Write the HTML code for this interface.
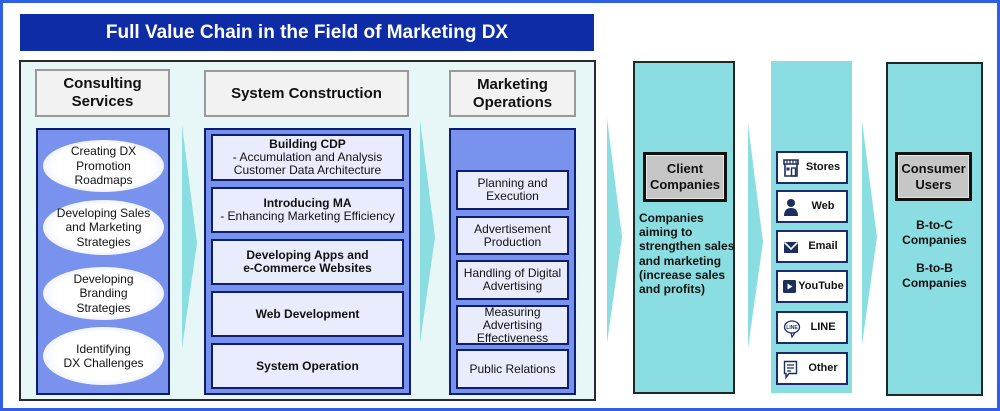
<!DOCTYPE html>
<html><head><meta charset="utf-8">
<style>
*{box-sizing:border-box;margin:0;padding:0}
html,body{width:1000px;height:411px;overflow:hidden;background:#fff}
body{position:relative;font-family:"Liberation Sans",Arial,sans-serif;color:#111}
.a{position:absolute}
.frame{left:0;top:0;width:1000px;height:411px;border:3px solid #2f5fe6}
.title{left:20px;top:14px;width:574px;height:37px;background:#0d2ca6;color:#fff;font-weight:bold;font-size:19px;text-align:center;line-height:37px}
.main{left:19px;top:60px;width:577px;height:341px;border:2px solid #2a2a2a;background:#e7f7f8}
.hdr{background:#f2f2f2;border:2px solid #9a9a9a;font-weight:bold;font-size:15px;text-align:center;display:flex;align-items:center;justify-content:center;line-height:18px}
.bp{background:#7892ee;border:2px solid #0b1f6e}
.ell{left:43px;width:121px;border-radius:50%;background:radial-gradient(ellipse at center,#ffffff 58%,#e6ebfb 80%,#c4cff4 100%);font-size:12px;line-height:14.5px;text-align:center;display:flex;align-items:center;justify-content:center}
.sb{left:211px;width:193px;background:#e8ecfc;border:2px solid #0b1f6e;font-size:12px;line-height:13px;text-align:center;display:flex;align-items:center;justify-content:center}
.mb{left:456px;width:113px;background:#e8ecfc;border:2px solid #0b1f6e;font-size:12px;line-height:13px;text-align:center;display:flex;align-items:center;justify-content:center}
.cyan{background:#8adde0}
.cp{border:2px solid #1e2a2a}
.gb{background:#c6c6c6;border:3px solid #111;box-shadow:inset 0 0 0 1px #e6e6e6;font-weight:bold;font-size:13px;line-height:16px;text-align:center;display:flex;align-items:center;justify-content:center}
.ch{left:776px;width:72px;height:33px;background:#fff;border:2px solid #1a2a6c;font-weight:bold;font-size:11px}
.ch span{position:absolute;left:22px;right:0;top:0;line-height:29px;text-align:center}
.ch svg{position:absolute;left:5px;top:6px}
b{font-weight:bold}
</style></head><body>
<div class="a frame"></div>
<div class="a title">Full Value Chain in the Field of Marketing DX</div>
<div class="a main"></div>

<div class="a hdr" style="left:35px;top:69px;width:135px;height:48px">Consulting<br>Services</div>
<div class="a hdr" style="left:204px;top:70px;width:205px;height:47px">System Construction</div>
<div class="a hdr" style="left:449px;top:70px;width:127px;height:47px">Marketing<br>Operations</div>

<div class="a bp" style="left:36px;top:128px;width:134px;height:267px"></div>
<div class="a ell" style="top:140px;height:52px">Creating DX<br>Promotion<br>Roadmaps</div>
<div class="a ell" style="top:200px;height:55px">Developing Sales<br>and Marketing<br>Strategies</div>
<div class="a ell" style="top:267px;height:53px">Developing<br>Branding<br>Strategies</div>
<div class="a ell" style="top:327px;height:58px">Identifying<br>DX Challenges</div>

<div class="a bp" style="left:204px;top:128px;width:207px;height:267px"></div>
<div class="a sb" style="top:134px;height:47px"><div><b>Building CDP</b><br>- Accumulation and Analysis<br>Customer Data Architecture</div></div>
<div class="a sb" style="top:187px;height:46px"><div><b>Introducing MA</b><br>- Enhancing Marketing Efficiency</div></div>
<div class="a sb" style="top:239px;height:46px"><div><b>Developing Apps and<br>e-Commerce Websites</b></div></div>
<div class="a sb" style="top:291px;height:46px"><b>Web Development</b></div>
<div class="a sb" style="top:343px;height:46px"><b>System Operation</b></div>

<div class="a bp" style="left:449px;top:128px;width:127px;height:267px"></div>
<div class="a mb" style="top:170px;height:40px">Planning and<br>Execution</div>
<div class="a mb" style="top:216px;height:39px">Advertisement<br>Production</div>
<div class="a mb" style="top:260px;height:40px">Handling of Digital<br>Advertising</div>
<div class="a mb" style="top:305px;height:40px">Measuring<br>Advertising<br>Effectiveness</div>
<div class="a mb" style="top:349px;height:40px">Public Relations</div>

<svg class="a" style="left:0;top:0" width="1000" height="411">
<g fill="#8adde0">
<polygon points="182,125 197,243 182,348"/>
<polygon points="420,120 435,237 420,343"/>
<polygon points="607,118 622,237 607,343"/>
<polygon points="748,124 763,242 748,348"/>
<polygon points="862,121 877,237 862,345"/>
</g>
</svg>

<div class="a cyan cp" style="left:633px;top:61px;width:102px;height:333px"></div>
<div class="a gb" style="left:643px;top:152px;width:84px;height:50px">Client<br>Companies</div>
<div class="a" style="left:639px;top:211px;width:96px;font-weight:bold;font-size:12px;line-height:14.2px">Companies<br>aiming to<br>strengthen sales<br>and marketing<br>(increase sales<br>and profits)</div>

<div class="a cyan" style="left:771px;top:61px;width:81px;height:332px"></div>
<div class="a ch" style="top:151px"><svg width="16" height="18" viewBox="0 0 16 18"><path d="M1 1h14v4H1z" fill="none" stroke="#1c2e5e" stroke-width="1.6"/><path d="M4 1v4M7 1v4M10 1v4M13 1v4" stroke="#1c2e5e" stroke-width="1.2"/><path d="M2 5v12h12V5" fill="none" stroke="#1c2e5e" stroke-width="1.6"/><rect x="3.5" y="8.5" width="3" height="3" fill="#1c2e5e"/><rect x="8.5" y="9" width="4" height="8" fill="none" stroke="#1c2e5e" stroke-width="1.4"/></svg><span>Stores</span></div>
<div class="a ch" style="top:190px"><svg width="16" height="18" viewBox="0 0 16 18"><circle cx="8" cy="5" r="4" fill="#1c2e5e"/><path d="M1 18c0-6 3-8 7-8s7 2 7 8z" fill="#1c2e5e"/></svg><span>Web</span></div>
<div class="a ch" style="top:230px"><svg width="16" height="18" viewBox="0 0 16 18"><rect x="1" y="4" width="14" height="11" fill="#1c2e5e"/><path d="M1.5 4.5L8 11l6.5-6.5" fill="none" stroke="#fff" stroke-width="1.6"/></svg><span>Email</span></div>
<div class="a ch" style="top:270px"><svg width="16" height="18" viewBox="0 0 16 18"><rect x="0" y="2" width="13" height="13" rx="1.5" fill="#1c2e5e"/><path d="M4.5 5.5v6l5-3z" fill="#fff"/></svg><span style="left:18px">YouTube</span></div>
<div class="a ch" style="top:311px"><svg width="18" height="20" viewBox="0 0 18 20"><ellipse cx="9" cy="8" rx="7.5" ry="6" fill="none" stroke="#1c2e5e" stroke-width="1.3"/><path d="M8 14l1 4 3-4.5" fill="none" stroke="#1c2e5e" stroke-width="1.2"/><text x="9" y="10" font-size="5" text-anchor="middle" fill="#1c2e5e" font-family="Liberation Sans">LINE</text></svg><span>LINE</span></div>
<div class="a ch" style="top:352px"><svg width="16" height="20" viewBox="0 0 16 20"><path d="M1.5 1.5h12v12H6l-3 4v-4H1.5z" fill="none" stroke="#1c2e5e" stroke-width="1.4"/><path d="M4 5h7M4 8h7M4 11h4" stroke="#1c2e5e" stroke-width="1.3"/></svg><span>Other</span></div>

<div class="a cyan cp" style="left:886px;top:62px;width:97px;height:334px"></div>
<div class="a gb" style="left:895px;top:152px;width:77px;height:49px">Consumer<br>Users</div>
<div class="a" style="left:886px;top:218px;width:97px;text-align:center;font-weight:bold;font-size:12px;line-height:14.5px">B-to-C<br>Companies</div>
<div class="a" style="left:886px;top:261px;width:97px;text-align:center;font-weight:bold;font-size:12px;line-height:14.5px">B-to-B<br>Companies</div>
</body></html>
